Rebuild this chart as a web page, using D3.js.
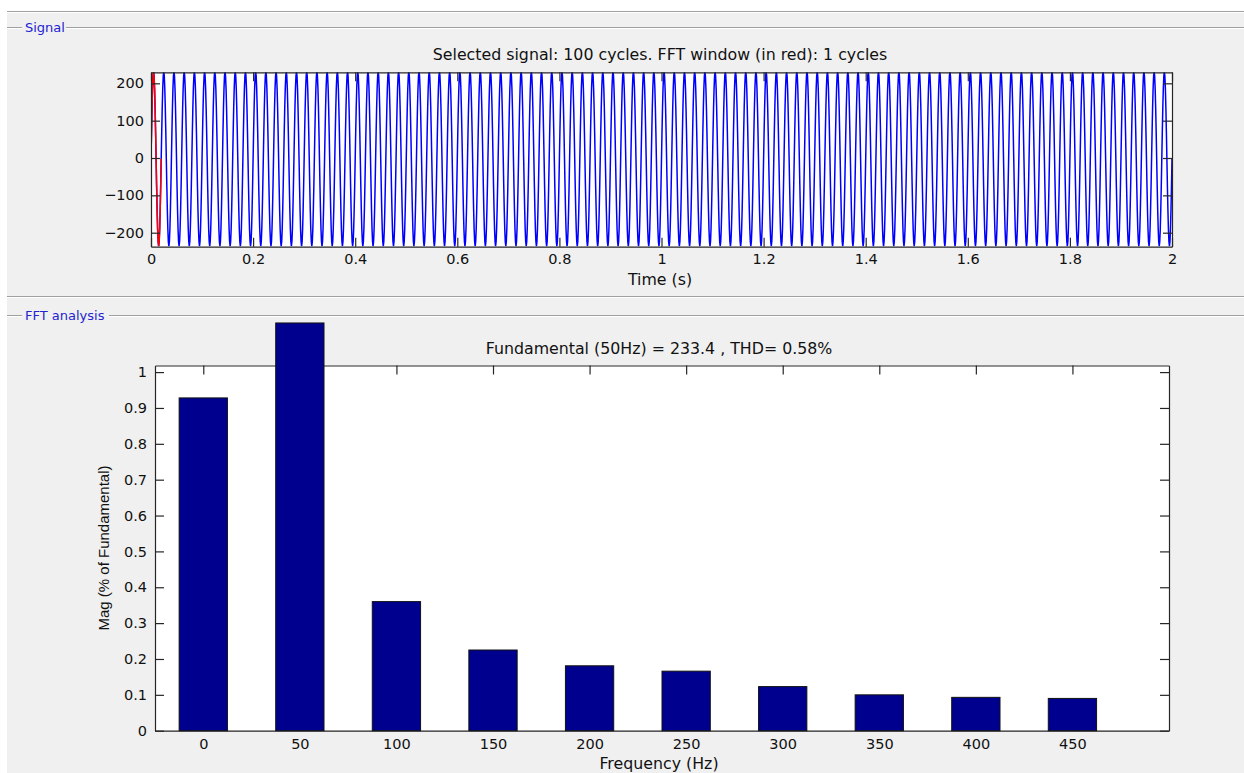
<!DOCTYPE html>
<html>
<head>
<meta charset="utf-8">
<script src="https://cdn.jsdelivr.net/npm/d3@7"></script>
<style>
body { margin: 0; background: #fff; }
svg text { font-family: "DejaVu Sans", sans-serif; fill: #111; }
</style>
</head>
<body>
<script>
// one period of the 50 Hz signal (V)
var cycleSamples = [-2, 70, 135, 187, 220, 231, 220, 187, 135, 70, -2, -74, -139, -191, -224, -236, -224, -191, -139, -74];
var numCycles = 100;
var period = 0.02;        // seconds per cycle
var fftWindowCycles = 1;  // drawn in red
var timeTicks = [0, 0.2, 0.4, 0.6, 0.8, 1, 1.2, 1.4, 1.6, 1.8, 2];
var signalTicks = [-200, -100, 0, 100, 200];

// FFT bars, % of fundamental
var freqs = [0, 50, 100, 150, 200, 250, 300, 350, 400, 450];
var mags = [0.928, 1.137, 0.360, 0.225, 0.181, 0.166, 0.123, 0.100, 0.093, 0.090];
var magTicks = [0, 0.1, 0.2, 0.3, 0.4, 0.5, 0.6, 0.7, 0.8, 0.9, 1];

var signalTitle = "Selected signal: 100 cycles. FFT window (in red): 1 cycles";
var fftTitle = "Fundamental (50Hz) = 233.4 , THD= 0.58%";

var width = 1244, height = 773;

var svg = d3.select("body").append("svg")
  .attr("width", width)
  .attr("height", height);

//panel background + etched frame lines
svg.append("rect").attr("x", 7).attr("y", 12).attr("width", width - 7).attr("height", height - 12).attr("fill", "#f0f0f0");

function etched(x1, x2, y) {
  svg.append("line").attr("x1", x1).attr("x2", x2).attr("y1", y).attr("y2", y).attr("stroke", "#a0a0a0");
  svg.append("line").attr("x1", x1).attr("x2", x2).attr("y1", y + 1).attr("y2", y + 1).attr("stroke", "#fff");
}
etched(7, width, 11.5);
etched(7, 22, 27.5);
etched(66, width, 27.5);
etched(7, width, 296.5);
etched(7, 22, 315.5);
etched(109, width, 315.5);

svg.append("text").attr("x", 25).attr("y", 32).style("font-size", "13px").style("fill", "#2323d2").text("Signal");
svg.append("text").attr("x", 25).attr("y", 320).style("font-size", "13px").style("fill", "#2323d2").text("FFT analysis");

// ---------- signal plot ----------
var sx = d3.scaleLinear().domain([0, 2]).range([151, 1172]);
var sy = d3.scaleLinear().domain([-237.5, 229.5]).range([246.7, 72.3]);

var signal = [];
for (var c = 0; c < numCycles; c++) {
  for (var k = 0; k < cycleSamples.length; k++) {
    signal.push({t: (c + k / cycleSamples.length) * period, v: cycleSamples[k]});
  }
}
signal.push({t: numCycles * period, v: cycleSamples[0]});
var windowPts = signal.filter(function(d) { return d.t <= fftWindowCycles * period + 1e-9; });

var sg = svg.append("g");
sg.append("rect").attr("x", 151).attr("y", 72.3).attr("width", 1172 - 151).attr("height", 246.7 - 72.3).attr("fill", "#fff");

svg.append("clipPath").attr("id", "sclip").append("rect")
  .attr("x", 151).attr("y", 72.3).attr("width", 1172 - 151).attr("height", 246.7 - 72.3);

var line = d3.line().x(function(d) { return sx(d.t); }).y(function(d) { return sy(d.v); });

sg.append("path").datum(signal)
  .attr("clip-path", "url(#sclip)")
  .attr("fill", "none").attr("stroke", "#0000ff").attr("stroke-width", 1.5)
  .attr("d", line);
sg.append("path").datum(windowPts)
  .attr("clip-path", "url(#sclip)")
  .attr("fill", "none").attr("stroke", "#ff0000").attr("stroke-width", 1.5)
  .attr("d", line);

function boxAxes(g, x, y, xt, yt, padX, padY) {
  var r = x.range(), ry = y.range();
  g.append("g").attr("transform", "translate(0," + ry[0] + ")")
    .call(d3.axisBottom(x).tickValues(xt).tickSizeInner(-9).tickSizeOuter(0).tickPadding(padX).tickFormat(d3.format("~g")));
  g.append("g").attr("transform", "translate(0," + ry[1] + ")")
    .call(d3.axisTop(x).tickValues(xt).tickSizeInner(-9).tickSizeOuter(0).tickFormat(""));
  g.append("g").attr("transform", "translate(" + r[0] + ",0)")
    .call(d3.axisLeft(y).tickValues(yt).tickSizeInner(-9).tickSizeOuter(0).tickPadding(padY).tickFormat(d3.format("~g")));
  g.append("g").attr("transform", "translate(" + r[1] + ",0)")
    .call(d3.axisRight(y).tickValues(yt).tickSizeInner(-9).tickSizeOuter(0).tickFormat(""));
  g.selectAll(".domain, .tick line").attr("stroke", "#262626").attr("stroke-width", 1.2);
  g.selectAll(".tick text").style("font-size", "14.5px").style("font-family", "DejaVu Sans").attr("fill", "#111");
}
boxAxes(sg, sx, sy, timeTicks, signalTicks, 7.5, 7);

svg.append("text").attr("x", 660).attr("y", 60).attr("text-anchor", "middle").style("font-size", "15.8px").text(signalTitle);
svg.append("text").attr("x", 660).attr("y", 285).attr("text-anchor", "middle").style("font-size", "15.8px").text("Time (s)");

// ---------- FFT bar plot ----------
var fx = d3.scaleLinear().domain([-25, 500]).range([155, 1169]);
var fy = d3.scaleLinear().domain([0, 1.0184]).range([730.7, 365.5]);
var barW = fx(25) - fx(0);

var fg = svg.append("g");
fg.append("rect").attr("x", 155).attr("y", 365.5).attr("width", 1169 - 155).attr("height", 730.7 - 365.5).attr("fill", "#fff");
boxAxes(fg, fx, fy, freqs, magTicks, 8, 8);

fg.selectAll("rect.bar")
  .data(freqs)
  .enter()
  .append("rect")
  .attr("class", "bar")
  .attr("x", function(d) { return fx(d) - barW / 2; })
  .attr("width", barW)
  .attr("y", function(d, i) { return fy(mags[i]); })
  .attr("height", function(d, i) { return fy(0) - fy(mags[i]); })
  .attr("fill", "#00008f")
  .attr("stroke", "#111")
  .attr("stroke-width", 1);

svg.append("text").attr("x", 659).attr("y", 354).attr("text-anchor", "middle").style("font-size", "15.8px").text(fftTitle);
svg.append("text").attr("x", 659).attr("y", 769).attr("text-anchor", "middle").style("font-size", "15.8px").text("Frequency (Hz)");
svg.append("text")
  .attr("transform", "translate(109,548) rotate(-90)")
  .attr("text-anchor", "middle")
  .style("font-family", "Liberation Sans")
  .style("font-size", "15px")
  .text("Mag (% of Fundamental)");
</script>
</body>
</html>
